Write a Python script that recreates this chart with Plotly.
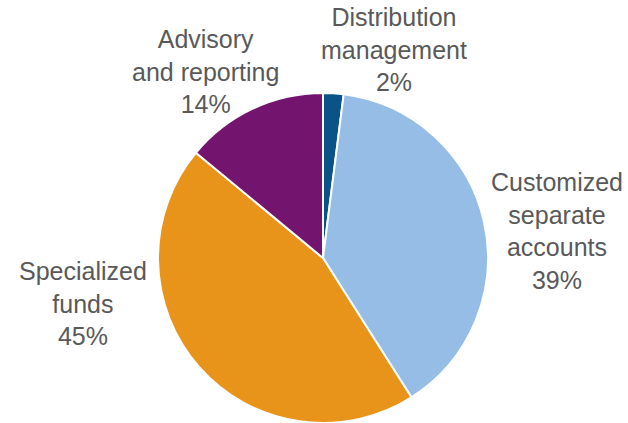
import plotly.graph_objects as go

labels = ["Distribution management", "Customized separate accounts", "Specialized funds", "Advisory and reporting"]
label_lines = [["Distribution", "management"], ["Customized", "separate", "accounts"], ["Specialized", "funds"], ["Advisory", "and reporting"]]
values = [2, 39, 45, 14]
colors = ["#0B5387", "#95BDE6", "#E8941A", "#73156E"]

# label anchor positions (pixels in 628x423 canvas)
label_pos = [(394, 50), (557, 231), (83, 303), (205, 71)]

W, H = 628, 423
fig = go.Figure(go.Pie(
    labels=labels, values=values, sort=False, direction="clockwise", rotation=0,
    marker=dict(colors=colors, line=dict(color="white", width=2)),
    textinfo="none", hoverinfo="label+percent", showlegend=False,
    domain=dict(x=[158 / W, 488 / W], y=[0, 330 / H]),
))

total = sum(values)
for lines, v, (px, py) in zip(label_lines, values, label_pos):
    txt = "<br>".join(lines + [f"{round(100 * v / total)}%"])
    fig.add_annotation(text=txt, x=px / W, y=1 - py / H, xref="paper", yref="paper",
                       xanchor="center", yanchor="middle", showarrow=False, align="center",
                       font=dict(family="Liberation Sans, Arial, sans-serif", size=25, color="#595959"))

fig.update_layout(width=W, height=H, margin=dict(l=0, r=0, t=0, b=0),
                  paper_bgcolor="white", plot_bgcolor="white")
fig.write_html("out.html", config={"displayModeBar": False},
               post_script="document.body.style.margin='0';document.body.style.overflow='hidden';")
